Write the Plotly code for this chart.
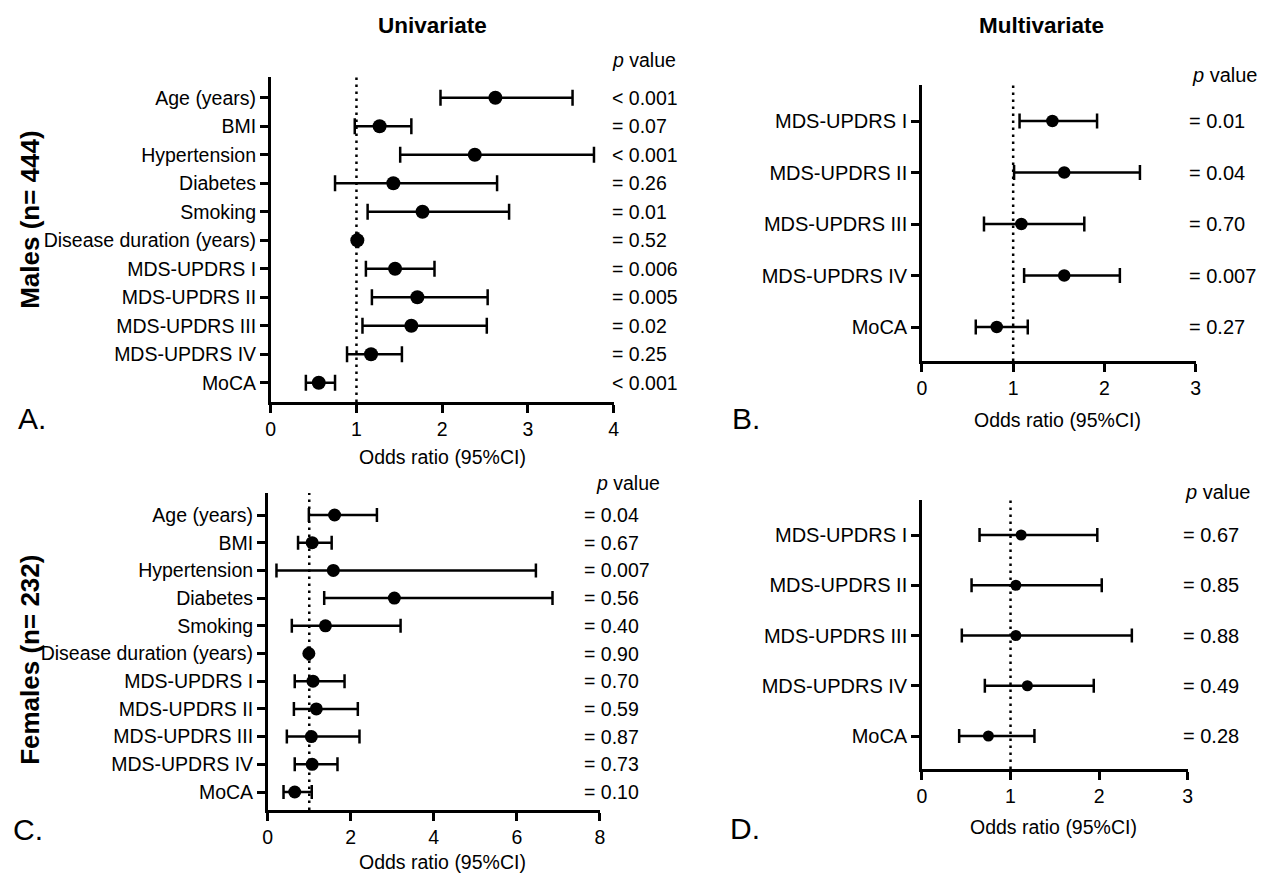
import plotly.graph_objects as go

# ---------------- data ----------------
uni_labels = ["Age (years)", "BMI", "Hypertension", "Diabetes", "Smoking",
              "Disease duration (years)", "MDS-UPDRS I", "MDS-UPDRS II",
              "MDS-UPDRS III", "MDS-UPDRS IV", "MoCA"]
multi_labels = ["MDS-UPDRS I", "MDS-UPDRS II", "MDS-UPDRS III", "MDS-UPDRS IV", "MoCA"]

male_uni_or = [2.62, 1.27, 2.38, 1.43, 1.77, 1.01, 1.45, 1.71, 1.64, 1.17, 0.56]
male_uni_lo = [1.98, 0.98, 1.51, 0.75, 1.13, 1.00, 1.11, 1.18, 1.07, 0.89, 0.41]
male_uni_hi = [3.52, 1.64, 3.77, 2.64, 2.78, 1.02, 1.91, 2.53, 2.52, 1.53, 0.75]
male_uni_p = ["< 0.001", "= 0.07", "< 0.001", "= 0.26", "= 0.01", "= 0.52",
              "= 0.006", "= 0.005", "= 0.02", "= 0.25", "< 0.001"]

male_multi_or = [1.43, 1.56, 1.09, 1.56, 0.82]
male_multi_lo = [1.07, 1.01, 0.68, 1.12, 0.59]
male_multi_hi = [1.92, 2.39, 1.78, 2.17, 1.16]
male_multi_p = ["= 0.01", "= 0.04", "= 0.70", "= 0.007", "= 0.27"]

female_uni_or = [1.61, 1.07, 1.58, 3.05, 1.39, 0.99, 1.09, 1.17, 1.05, 1.07, 0.65]
female_uni_lo = [0.99, 0.73, 0.21, 1.36, 0.58, 0.97, 0.65, 0.63, 0.46, 0.65, 0.38]
female_uni_hi = [2.63, 1.54, 6.46, 6.86, 3.20, 1.01, 1.85, 2.17, 2.21, 1.68, 1.06]
female_uni_p = ["= 0.04", "= 0.67", "= 0.007", "= 0.56", "= 0.40", "= 0.90",
                "= 0.70", "= 0.59", "= 0.87", "= 0.73", "= 0.10"]

female_multi_or = [1.12, 1.06, 1.06, 1.19, 0.75]
female_multi_lo = [0.65, 0.56, 0.45, 0.71, 0.42]
female_multi_hi = [1.98, 2.03, 2.37, 1.94, 1.27]
female_multi_p = ["= 0.67", "= 0.85", "= 0.88", "= 0.49", "= 0.28"]

x_ticks_a = [0, 1, 2, 3, 4]
x_ticks_b = [0, 1, 2, 3]
x_ticks_c = [0, 2, 4, 6, 8]
x_ticks_d = [0, 1, 2, 3]

# ---------------- layout geometry ----------------
# page body has an 8px margin, so the figure is drawn 8px in from the window corner
OFF = 8
W, H = 1265 - OFF, 873 - OFF
FONT = "Liberation Sans, Arial, sans-serif"


def px(x):
    return (x - OFF) / W


def py(y):
    return 1 - (y - OFF) / H


panels = [
    dict(labels=uni_labels, orv=male_uni_or, lo=male_uni_lo, hi=male_uni_hi, p=male_uni_p,
         x0=268, x1=614, ytop=77, ybot=402, first=97.7, step=28.5, xr=[0, 4], ticks=x_ticks_a,
         lab=19.5, msize=14, cap=8, pval_x=610, phead=(610, 60), xtitle_y=457, xtitle_x=441),
    dict(labels=multi_labels, orv=male_multi_or, lo=male_multi_lo, hi=male_multi_hi, p=male_multi_p,
         x0=925, x1=1201, ytop=85, ybot=361, first=121, step=51.5, xr=[0, 3], ticks=x_ticks_b,
         lab=20, msize=12.5, cap=7.5, pval_x=1192, phead=(1195, 75), xtitle_y=420, xtitle_x=1062),
    dict(labels=uni_labels, orv=female_uni_or, lo=female_uni_lo, hi=female_uni_hi, p=female_uni_p,
         x0=265, x1=600, ytop=493, ybot=810, first=515, step=27.7, xr=[0, 8], ticks=x_ticks_c,
         lab=19.5, msize=13, cap=7, pval_x=582, phead=(594, 483), xtitle_y=862, xtitle_x=441),
    dict(labels=multi_labels, orv=female_multi_or, lo=female_multi_lo, hi=female_multi_hi, p=female_multi_p,
         x0=925, x1=1193, ytop=500, ybot=769, first=535, step=50.25, xr=[0, 3], ticks=x_ticks_d,
         lab=20, msize=11, cap=7, pval_x=1186, phead=(1188, 492), xtitle_y=827, xtitle_x=1058),
]

fig = go.Figure()
annotations = []
shapes = []
layout_axes = {}

for k, pn in enumerate(panels, start=1):
    sfx = "" if k == 1 else str(k)
    n = len(pn["labels"])
    idx = list(range(n))
    plus = [h - o for h, o in zip(pn["hi"], pn["orv"])]
    minus = [o - l for o, l in zip(pn["orv"], pn["lo"])]
    fig.add_trace(go.Scatter(
        x=pn["orv"], y=idx, mode="markers",
        xaxis="x" + sfx, yaxis="y" + sfx,
        marker=dict(color="black", size=pn["msize"]),
        error_x=dict(type="data", symmetric=False, array=plus, arrayminus=minus,
                     color="black", thickness=2.5, width=pn["cap"]),
        showlegend=False, hoverinfo="skip"))

    yr = [(pn["ybot"] - pn["first"]) / pn["step"], (pn["ytop"] - pn["first"]) / pn["step"]]
    layout_axes["xaxis" + sfx] = dict(
        domain=[px(pn["x0"]), px(pn["x1"])], anchor="y" + sfx, range=pn["xr"],
        tickvals=pn["ticks"], ticktext=[str(t) for t in pn["ticks"]],
        showline=True, linecolor="black", linewidth=2.5, mirror=False,
        ticks="outside", ticklen=8, tickwidth=2.5, tickcolor="black",
        showgrid=False, zeroline=False, tickfont=dict(size=19.5, color="black", family=FONT))
    layout_axes["yaxis" + sfx] = dict(
        domain=[py(pn["ybot"]), py(pn["ytop"])], anchor="x" + sfx, range=yr,
        tickvals=idx, ticktext=pn["labels"],
        showline=True, linecolor="black", linewidth=2.5,
        ticks="outside", ticklen=8, tickwidth=2.5, tickcolor="black",
        showgrid=False, zeroline=False, tickfont=dict(size=pn["lab"], color="black", family=FONT))

    shapes.append(dict(type="line", xref="x" + sfx, yref="y" + sfx + " domain",
                       x0=1, x1=1, y0=0, y1=1, layer="below",
                       line=dict(color="black", width=2.5, dash="2.5px,4.5px")))

    for i, txt in enumerate(pn["p"]):
        annotations.append(dict(text=txt, xref="paper", yref="y" + sfx, x=px(pn["pval_x"]), y=i,
                                xanchor="left", yanchor="middle", showarrow=False,
                                font=dict(size=pn["lab"], color="black", family=FONT)))
    annotations.append(dict(text="<i>p</i> value", xref="paper", yref="paper",
                            x=px(pn["phead"][0]), y=py(pn["phead"][1]),
                            xanchor="left", yanchor="middle", showarrow=False,
                            font=dict(size=pn["lab"], color="black", family=FONT)))
    annotations.append(dict(text="Odds ratio (95%CI)", xref="paper", yref="paper",
                            x=px(pn["xtitle_x"]), y=py(pn["xtitle_y"]),
                            xanchor="center", yanchor="middle", showarrow=False,
                            font=dict(size=19.5, color="black", family=FONT)))

# titles, panel letters, side labels
for txt, x, y in [("Univariate", 431, 25), ("Multivariate", 1046, 25)]:
    annotations.append(dict(text="<b>" + txt + "</b>", xref="paper", yref="paper",
                            x=px(x), y=py(y), xanchor="center", yanchor="middle",
                            showarrow=False, font=dict(size=22.5, color="black", family=FONT)))
for txt, x, y in [("A.", 27, 419), ("B.", 747, 419), ("C.", 23, 829), ("D.", 746, 828)]:
    annotations.append(dict(text=txt, xref="paper", yref="paper",
                            x=px(x), y=py(y), xanchor="center", yanchor="middle",
                            showarrow=False, font=dict(size=30, color="black", family=FONT)))
for txt, x, y in [("Males (n= 444)", 25, 220), ("Females (n= 232)", 25, 660)]:
    annotations.append(dict(text="<b>" + txt + "</b>", xref="paper", yref="paper",
                            x=px(x), y=py(y), xanchor="center", yanchor="middle", textangle=-90,
                            showarrow=False, font=dict(size=26, color="black", family=FONT)))

fig.update_layout(
    width=W, height=H, margin=dict(l=0, r=0, t=0, b=0),
    paper_bgcolor="white", plot_bgcolor="white",
    font=dict(family=FONT, color="black"),
    annotations=annotations, shapes=shapes, **layout_axes)

fig.write_html("out.html")
